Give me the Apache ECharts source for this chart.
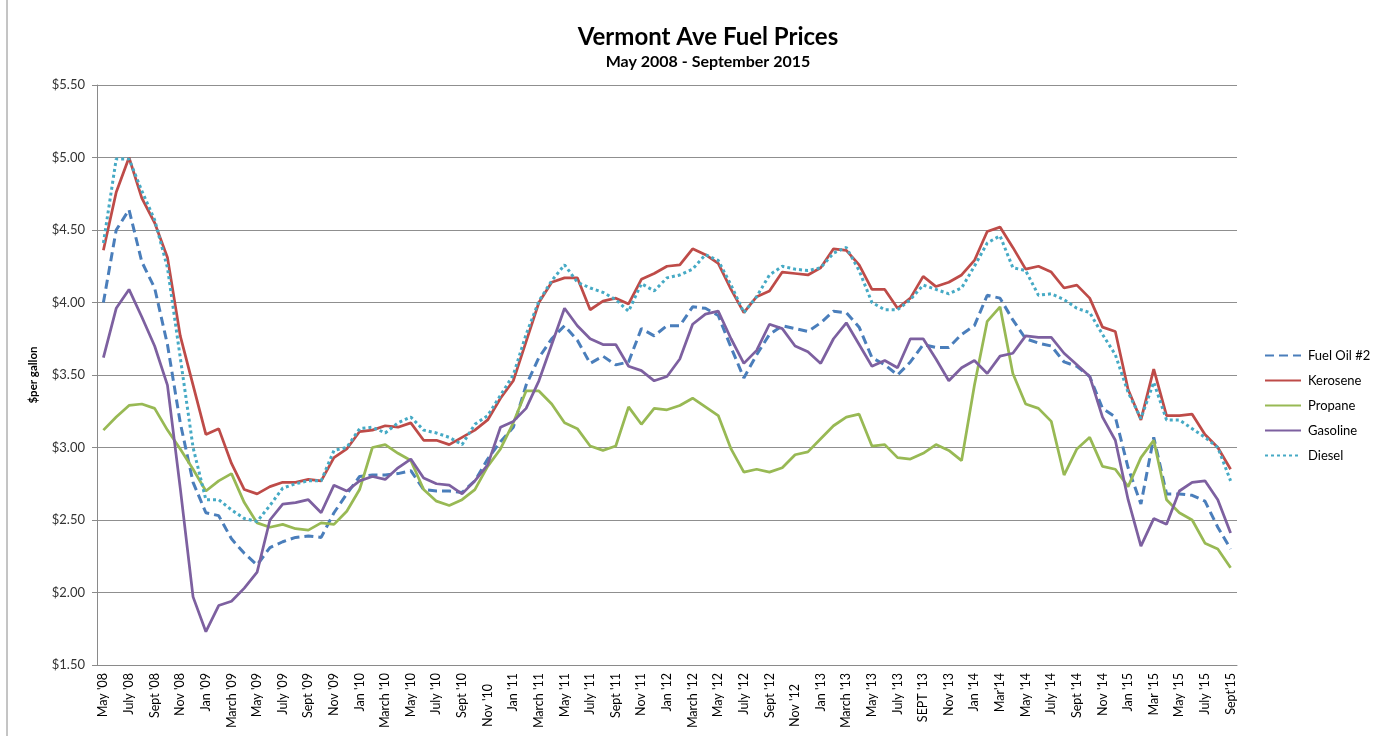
<!DOCTYPE html>
<html>
<head>
<meta charset="utf-8">
<script src="https://cdn.jsdelivr.net/npm/echarts@6/dist/echarts.min.js"></script>
<style>
html,body{margin:0;padding:0;background:#fff;}
#chart{width:1377px;height:736px;}
</style>
</head>
<body>
<div id="chart"></div>
<script>
const categories = [
"May '08","June '08","July '08","Aug '08","Sept '08","Oct '08","Nov '08","Dec '08","Jan '09","Feb '09",
"March '09","April '09","May '09","June '09","July '09","Aug '09","Sept '09","Oct '09","Nov '09","Dec '09",
"Jan '10","Feb '10","March '10","April '10","May '10","June '10","July '10","Aug '10","Sept '10","Oct '10",
"Nov '10","Dec '10","Jan '11","Feb '11","March '11","April '11","May '11","June '11","July '11","Aug '11",
"Sept '11","Oct '11","Nov '11","Dec '11","Jan '12","Feb '12","March '12","April '12","May '12","June '12",
"July '12","Aug '12","Sept '12","Oct '12","Nov '12","Dec '12","Jan '13","Feb '13","March '13","April '13",
"May '13","June '13","July '13","Aug '13","SEPT '13","Oct '13","Nov '13","Dec '13","Jan '14","Feb '14",
"Mar'14","April '14","May '14","June '14","July '14","Aug '14","Sept '14","Oct '14","Nov '14","Dec '14",
"Jan '15","Feb '15","Mar '15","April '15","May '15","June '15","July '15","Aug '15","Sept'15"
];

const fuelOil = [
4.00,4.50,4.64,4.28,4.10,3.71,3.17,2.76,2.55,2.53,
2.37,2.27,2.19,2.31,2.35,2.38,2.39,2.38,2.55,2.68,
2.80,2.81,2.81,2.82,2.84,2.71,2.70,2.70,2.69,2.77,
2.92,3.04,3.14,3.43,3.62,3.75,3.84,3.74,3.58,3.63,
3.57,3.59,3.82,3.77,3.84,3.84,3.97,3.96,3.91,3.69,
3.48,3.64,3.78,3.84,3.82,3.80,3.86,3.94,3.93,3.83,
3.62,3.57,3.50,3.59,3.71,3.69,3.69,3.78,3.84,4.05,
4.03,3.88,3.75,3.72,3.70,3.59,3.56,3.49,3.27,3.21,
2.86,2.61,3.07,2.68,2.68,2.67,2.63,2.45,2.30
];

const kerosene = [
4.36,4.76,5.00,4.72,4.55,4.31,3.77,3.43,3.09,3.13,
2.89,2.71,2.68,2.73,2.76,2.76,2.78,2.77,2.93,2.99,
3.11,3.12,3.15,3.14,3.17,3.05,3.05,3.02,3.07,3.12,
3.19,3.34,3.46,3.73,4.00,4.14,4.17,4.17,3.95,4.01,
4.03,3.99,4.16,4.20,4.25,4.26,4.37,4.33,4.27,4.09,
3.93,4.04,4.08,4.21,4.20,4.19,4.24,4.37,4.36,4.26,
4.09,4.09,3.96,4.03,4.18,4.11,4.14,4.19,4.29,4.49,
4.52,4.38,4.23,4.25,4.21,4.10,4.12,4.03,3.83,3.80,
3.40,3.19,3.54,3.22,3.22,3.23,3.09,3.00,2.85
];

const propane = [
3.12,3.21,3.29,3.30,3.27,3.12,2.99,2.85,2.70,2.77,
2.82,2.62,2.48,2.45,2.47,2.44,2.43,2.48,2.47,2.56,
2.71,3.00,3.02,2.96,2.91,2.71,2.63,2.60,2.64,2.71,
2.87,2.99,3.17,3.39,3.39,3.30,3.17,3.13,3.01,2.98,
3.01,3.28,3.16,3.27,3.26,3.29,3.34,3.28,3.22,2.99,
2.83,2.85,2.83,2.86,2.95,2.97,3.06,3.15,3.21,3.23,
3.01,3.02,2.93,2.92,2.96,3.02,2.98,2.91,3.43,3.87,
3.97,3.51,3.30,3.27,3.18,2.81,2.99,3.07,2.87,2.85,
2.73,2.93,3.05,2.64,2.55,2.50,2.34,2.30,2.17
];

const gasoline = [
3.62,3.96,4.09,3.90,3.70,3.43,2.72,1.97,1.73,1.91,
1.94,2.03,2.14,2.50,2.61,2.62,2.64,2.55,2.74,2.70,
2.77,2.80,2.78,2.86,2.92,2.79,2.75,2.74,2.68,2.77,
2.88,3.14,3.18,3.27,3.46,3.71,3.96,3.84,3.75,3.71,
3.71,3.56,3.53,3.46,3.49,3.61,3.85,3.92,3.94,3.75,
3.58,3.67,3.85,3.82,3.70,3.66,3.58,3.75,3.86,3.71,
3.56,3.60,3.55,3.75,3.75,3.61,3.46,3.55,3.60,3.51,
3.63,3.65,3.77,3.76,3.76,3.65,3.57,3.49,3.21,3.05,
2.64,2.32,2.51,2.47,2.70,2.76,2.77,2.64,2.41
];

const diesel = [
4.41,4.99,4.99,4.77,4.57,4.24,3.62,3.00,2.64,2.64,
2.57,2.51,2.49,2.60,2.72,2.75,2.77,2.77,2.98,3.00,
3.13,3.14,3.10,3.17,3.21,3.12,3.10,3.07,3.02,3.16,
3.22,3.36,3.50,3.78,4.01,4.15,4.26,4.14,4.10,4.07,
4.02,3.94,4.13,4.08,4.17,4.19,4.23,4.33,4.29,4.12,
3.93,4.04,4.19,4.25,4.23,4.22,4.24,4.34,4.38,4.22,
4.00,3.95,3.95,4.02,4.12,4.09,4.06,4.10,4.25,4.41,
4.46,4.24,4.22,4.05,4.06,4.02,3.96,3.93,3.78,3.64,
3.38,3.20,3.45,3.19,3.19,3.13,3.07,3.00,2.77
];

const seriesNames = ["Fuel Oil #2","Kerosene","Propane","Gasoline","Diesel"];
const shiftedLabels = ["Nov '10","Nov '12"];

const FONT = "Lato, 'Open Sans', sans-serif";
const chart = echarts.init(document.getElementById('chart'), null, {renderer:'canvas'});

function lineSeries(name, data, color, type, width) {
  return {
    name: name, type: 'line', data: data, symbol: 'none', smooth: false,
    lineStyle: {color: color, width: width, type: type, cap: 'butt'},
    itemStyle: {color: color},
    emphasis: {disabled: true}
  };
}

chart.setOption({
  animation: false,
  backgroundColor: '#fff',
  graphic: [
    {type:'rect', shape:{x:7, y:-5, width:1400, height:760}, style:{fill:'none', stroke:'#8a8a8a', lineWidth:1}, silent:true},
    {type:'text', x:708, y:25, style:{text:'Vermont Ave Fuel Prices', font:"bold 24px " + FONT, fill:'#000', textAlign:'center', textVerticalAlign:'top'}},
    {type:'text', x:708, y:54, style:{text:'May 2008 - September 2015', font:"bold 16px " + FONT, fill:'#000', textAlign:'center', textVerticalAlign:'top'}}
  ],
  legend: {
    orient: 'vertical',
    left: 1259, top: 344,
    itemWidth: 36, itemHeight: 10, itemGap: 12,
    itemStyle: {opacity: 0},
    textStyle: {fontFamily: FONT, fontSize: 13, color: '#000', padding:[0,0,0,2]},
    data: seriesNames
  },
  grid: {left: 97, right: 140, top: 85, bottom: 71, containLabel: false},
  xAxis: {
    type: 'category',
    data: categories,
    boundaryGap: true,
    axisLine: {show: true, lineStyle: {color: '#8a8a8a', width: 1}},
    axisTick: {show: false},
    axisLabel: {
      interval: 1,
      rotate: 90,
      margin: 8,
      fontFamily: FONT, fontSize: 12.5, color: '#000',
      formatter: function (v) {
        return shiftedLabels.indexOf(v) >= 0 ? '{s|' + v + '}' : v;
      },
      rich: {s: {fontFamily: FONT, fontSize: 12.5, color: '#000', padding: [0, 11, 0, 0]}}
    },
    splitLine: {show: false}
  },
  yAxis: {
    type: 'value',
    min: 1.5, max: 5.5, interval: 0.5,
    name: '$per gallon',
    nameLocation: 'middle',
    nameGap: 58,
    nameRotate: 90,
    nameTextStyle: {fontFamily: FONT, fontSize: 11.5, fontWeight: 'bold', color: '#000'},
    axisLine: {show: true, lineStyle: {color: '#8a8a8a', width: 1}},
    axisTick: {show: true, length: 5, lineStyle: {color: '#8a8a8a'}},
    axisLabel: {
      margin: 12, fontFamily: FONT, fontSize: 13, color: '#333',
      formatter: function (v) { return '$' + v.toFixed(2); }
    },
    splitLine: {show: true, lineStyle: {color: '#8f8f8f', width: 1}}
  },
  series: [
    lineSeries(seriesNames[0], fuelOil, '#4a7ebb', [9, 5], 3),
    lineSeries(seriesNames[1], kerosene, '#be4b48', 'solid', 2.75),
    lineSeries(seriesNames[2], propane, '#98b954', 'solid', 2.75),
    lineSeries(seriesNames[3], gasoline, '#7d60a0', 'solid', 2.75),
    lineSeries(seriesNames[4], diesel, '#46aac5', [3, 3], 3)
  ]
});
</script>
</body>
</html>
